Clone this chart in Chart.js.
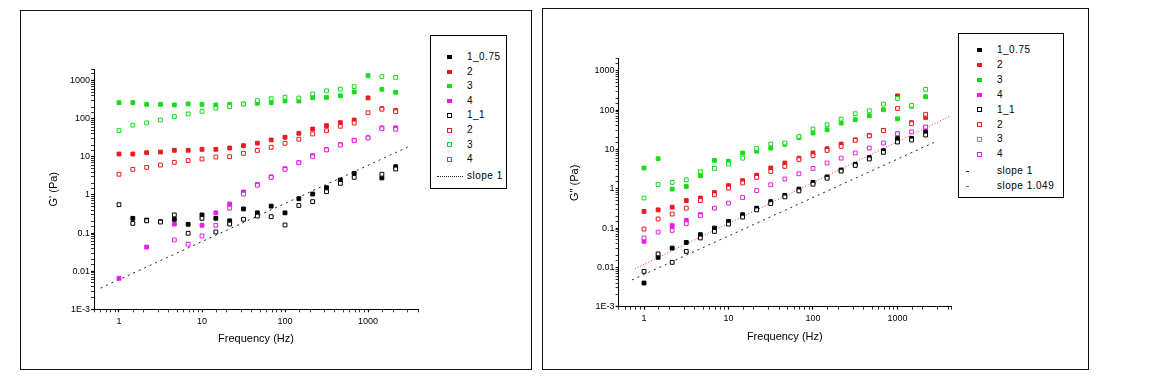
<!DOCTYPE html>
<html>
<head>
<meta charset="utf-8">
<script src="https://cdn.jsdelivr.net/npm/chart.js@4.4.0/dist/chart.umd.min.js"></script>
<style>
  body { margin: 0; background: #fff; width: 1155px; height: 377px; position: relative; overflow: hidden;
         font-family: 'Liberation Sans', Arial, sans-serif; }
  .frame { position: absolute; border: 1px solid #111; box-sizing: border-box; }
  .wrap { position: absolute; }
  .legend { position: absolute; border: 1px solid #000; box-sizing: border-box; background: #fff; }
  .row { position: absolute; height: 12px; line-height: 12px; font-size: 10px; letter-spacing: 0.5px; color: #000; white-space: nowrap; }
  .mk { position: absolute; box-sizing: border-box; }
</style>
</head>
<body>
<div class="frame" style="left:20px;top:10px;width:512px;height:360px"></div>
<div class="frame" style="left:542px;top:8px;width:547px;height:362px"></div>
<div class="wrap" style="left:20px;top:10px;width:512px;height:360px"><canvas id="gp"></canvas></div>
<div class="wrap" style="left:542px;top:8px;width:547px;height:362px"><canvas id="gpp"></canvas></div>
<div class="legend" id="legGp" style="left:430px;top:35px;width:77px;height:154px"></div>
<div class="legend" id="legGpp" style="left:958px;top:33px;width:106px;height:165px"></div>
<script>
// frequencies (Hz), 6 points per decade
const freq = [1, 1.468, 2.154, 3.162, 4.642, 6.813, 10, 14.68, 21.54, 31.62, 46.42, 68.13,
              100, 146.8, 215.4, 316.2, 464.2, 681.3, 1000, 1468, 2154];

// G' (Pa), series 1_0.75 (filled) and 1_1 (open)
const gp075_1 = [null, 0.244, 0.22, 0.2, 0.23, 0.17, 0.3, 0.244, 0.21, 0.43, 0.34, 0.51, 0.34, 0.8, 1.06, 1.55, 2.47, 3.7, null, 2.8, 5.5];
const gp075_2 = [11.9, 11.9, 12.9, 13.4, 14.9, 14.9, 15.8, 15.8, 17.1, 19.7, 23, 27.8, 32.7, 41.6, 54, 66, 79, 93, 352, 185, 165];
const gp075_3 = [265, 265, 240, 240, 230, 245, 240, 230, 240, 245, 255, 265, 293, 293, 360, 365, 400, 505, 1350, 594, 496];
const gp075_4 = [0.0065, null, 0.043, null, 0.173, null, 0.16, 0.34, 0.58, 1.2, 1.9, 3.0, 4.9, 7.1, 10.8, 15.5, 21, 27.5, 32, 58, 58];
const gp11_1 = [0.557, 0.18, 0.21, 0.195, 0.3, 0.099, 0.244, 0.107, 0.173, 0.23, 0.28, 0.27, 0.163, 0.53, 0.67, 1.22, 2.02, 2.9, null, 3.5, 4.8];
const gp11_2 = [3.5, 4.7, 5.3, 6.1, 7.2, 8.0, 8.8, 9.9, 10.1, 12.4, 14.8, 17.9, 22.7, 29, 40, 48.7, 63.5, 77.6, 144, 178, 153];
const gp11_3 = [49, 68, 78, 93, 114, 134, 157, 189, 208, 244, 300, 337, 367, 350, 450, 540, 600, 696, null, 1273, 1220];
const gp11_4 = [null, null, null, null, 0.066, 0.051, 0.084, 0.16, 0.45, 1.05, 1.8, 2.9, 4.7, 7.0, 10.1, 15.2, 20.5, 26.7, 31.3, 55, 53];

// G'' (Pa)
const gpp075_1 = [0.004, 0.018, 0.031, 0.043, 0.068, 0.1, 0.148, 0.218, 0.32, 0.47, 0.68, 0.98, 1.45, 2.0, 3.0, 4.2, 6.2, 9.3, 18.9, 19, 27.6];
const gpp075_2 = [0.265, 0.29, 0.34, 0.5, 0.58, 0.8, 1.2, 1.6, 2.2, 3.36, 4.5, 6.0, 8.1, 10.4, 13.7, 17.5, 22.5, 30.5, 230, 48, 65];
const gpp075_3 = [3.36, 5.8, 0.98, 1.14, 2.14, 5.25, 5.0, 8.1, 9.0, 10.8, 13.5, 20, 26, 31.6, 46.8, 56.8, 71.8, 102, 60, 125, 218];
const gpp075_4 = [0.046, null, 0.115, 0.156, 0.22, null, null, null, null, null, null, null, null, null, null, null, null, null, 25, null, 36];
const gpp11_1 = [0.0079, 0.022, 0.0134, 0.0255, 0.056, 0.082, 0.126, 0.19, 0.29, 0.42, 0.62, 0.88, 1.3, 1.85, 2.8, 3.9, 5.7, 8.4, 15.4, 17.3, 23.2];
const gpp11_2 = [0.094, 0.17, 0.227, 0.32, 0.5, 0.7, 1.04, 1.4, 1.94, 2.75, 3.7, 5.46, 6.9, 9.4, 11.9, 17, 22, 30, 110, 45, 78];
const gpp11_3 = [0.58, 1.28, 1.45, 1.69, 2.7, 3.28, 4.25, 6.0, 10.5, 13.7, 14.5, 21.4, 33, 42.4, 59, 80.7, 96, 142, 198, 131, 335];
const gpp11_4 = [0.056, 0.079, 0.087, 0.129, 0.206, 0.32, 0.43, 0.6, 0.9, 1.26, 1.77, 2.4, 3.28, 4.5, 6.0, 8.1, 10.8, 14.5, 25, 28, 37];

// reference slope lines (end points)
const gpSlope1X = [0.6, 3000];
const gpSlope1Y = [0.0036, 18];
const gppSlope1X = [0.72, 2700];
const gppSlope1Y = [0.0048, 15];
const gppSlope1049X = [0.78, 4300];
const gppSlope1049Y = [0.0092, 72];

// tick labels
const xTickValues = [1, 10, 100, 1000];
const xTickLabels = ['1', '10', '100', '1000'];
const yTickValues = [0.001, 0.01, 0.1, 1, 10, 100, 1000];
const yTickLabels = ['1E-3', '0.01', '0.1', '1', '10', '100', '1000'];

const seriesLabels = ['1_0.75', '2', '3', '4', '1_1', '2', '3', '4'];
const seriesColors = ['#000000', '#e81c1c', '#18dc18', '#e81ce8'];

const FONT = "'Liberation Sans', Arial, sans-serif";

function pts(xs, ys) {
    return xs.map((x, i) => ({ x: x, y: ys[i] })).filter(p => p.y != null);
}

function markerSet(label, ys, color, open) {
    return {
        label: label,
        data: pts(freq, ys),
        showLine: false,
        pointStyle: 'rect',
        pointRadius: 2.7,
        pointHoverRadius: 2.7,
        pointBackgroundColor: open ? '#ffffff' : color,
        pointBorderColor: color,
        pointBorderWidth: 1,
        order: open ? 0 : 1,
        legendKind: open ? 'open' : 'filled',
        legendColor: color
    };
}

function slopeSet(label, xs, ys, color, dash) {
    return {
        label: label,
        data: pts(xs, ys),
        showLine: true,
        pointRadius: 0,
        borderColor: color,
        borderWidth: 1,
        borderDash: dash,
        fill: false,
        order: 2,
        legendKind: 'line',
        legendColor: color
    };
}

function tickText(v, values, labels) {
    for (let i = 0; i < values.length; i++) {
        if (Math.abs(v / values[i] - 1) < 1e-6) return labels[i];
    }
    return '';
}

function isDecade(v) {
    const l = Math.log10(v);
    return Math.abs(l - Math.round(l)) < 1e-6;
}

function logAxis(c) {
    return {
        type: 'logarithmic',
        position: c.position,
        min: c.min,
        max: c.max,
        grid: {
            drawOnChartArea: false,
            drawTicks: true,
            tickLength: 3,
            color: '#000',
            tickWidth: ctx => (ctx.tick && isDecade(ctx.tick.value)) ? 1.2 : 0.8
        },
        border: { display: true, color: '#000', width: 1 },
        ticks: {
            autoSkip: false,
            maxRotation: 0,
            minRotation: 0,
            padding: c.tickPad,
            color: '#000',
            font: { family: FONT, size: 9 },
            callback: v => tickText(v, c.values, c.labels)
        },
        title: {
            display: true,
            text: c.title,
            color: '#000',
            font: { family: FONT, size: 11 },
            padding: c.titlePad
        },
        afterFit: s => {
            if (c.position === 'left') s.width = c.size; else s.height = c.size;
        }
    };
}

function makeChart(id, datasets, p) {
    return new Chart(document.getElementById(id), {
        type: 'scatter',
        data: { datasets: datasets },
        options: {
            responsive: true,
            maintainAspectRatio: false,
            animation: false,
            events: [],
            layout: { padding: { left: 0, top: p.top, right: p.right, bottom: 0 } },
            plugins: { legend: { display: false }, tooltip: { enabled: false } },
            scales: {
                x: logAxis({ position: 'bottom', min: 0.5, max: p.xMax, values: xTickValues, labels: xTickLabels,
                             tickPad: p.xTickPad, title: 'Frequency (Hz)', titlePad: { top: 0, bottom: p.xTitlePad }, size: p.xSize }),
                y: logAxis({ position: 'left', min: 0.001, max: 2000, values: yTickValues, labels: yTickLabels,
                             tickPad: 1, title: p.yTitle, titlePad: { top: p.yTitlePad, bottom: 0 }, size: p.ySize })
            }
        }
    });
}

function buildLegend(id, datasets, L) {
    const box = document.getElementById(id);
    datasets.forEach((d, i) => {
        const cy = L.firstRow + i * L.step + (d.legendKind === 'line' ? L.lineExtra : 0);
        const mk = document.createElement('div');
        mk.className = 'mk';
        if (d.legendKind === 'filled') {
            mk.style.cssText = `left:${L.markX - 2.5}px;top:${cy - 2}px;width:5px;height:4px;background:${d.legendColor}`;
        } else if (d.legendKind === 'open') {
            mk.style.cssText = `left:${L.markX - 2.5}px;top:${cy - 2.5}px;width:5px;height:5px;border:1px solid ${d.legendColor};background:#fff`;
        } else {
            mk.style.cssText = `left:${L.lineX0}px;top:${cy}px;width:${L.lineX1 - L.lineX0}px;height:0;border-top:1px dotted ${d.legendColor}`;
        }
        box.appendChild(mk);
        const row = document.createElement('div');
        row.className = 'row';
        row.style.left = L.textX + 'px';
        row.style.top = (cy - 6) + 'px';
        row.textContent = d.label;
        box.appendChild(row);
    });
}

const gpSets = [
    markerSet(seriesLabels[0], gp075_1, seriesColors[0], false),
    markerSet(seriesLabels[1], gp075_2, seriesColors[1], false),
    markerSet(seriesLabels[2], gp075_3, seriesColors[2], false),
    markerSet(seriesLabels[3], gp075_4, seriesColors[3], false),
    markerSet(seriesLabels[4], gp11_1, seriesColors[0], true),
    markerSet(seriesLabels[5], gp11_2, seriesColors[1], true),
    markerSet(seriesLabels[6], gp11_3, seriesColors[2], true),
    markerSet(seriesLabels[7], gp11_4, seriesColors[3], true),
    slopeSet('slope 1', gpSlope1X, gpSlope1Y, '#222', [2, 4])
];

const gppSets = [
    markerSet(seriesLabels[0], gpp075_1, seriesColors[0], false),
    markerSet(seriesLabels[1], gpp075_2, seriesColors[1], false),
    markerSet(seriesLabels[2], gpp075_3, seriesColors[2], false),
    markerSet(seriesLabels[3], gpp075_4, seriesColors[3], false),
    markerSet(seriesLabels[4], gpp11_1, seriesColors[0], true),
    markerSet(seriesLabels[5], gpp11_2, seriesColors[1], true),
    markerSet(seriesLabels[6], gpp11_3, seriesColors[2], true),
    markerSet(seriesLabels[7], gpp11_4, seriesColors[3], true),
    slopeSet('slope 1', gppSlope1X, gppSlope1Y, '#222', [2, 4]),
    slopeSet('slope 1.049', gppSlope1049X, gppSlope1049Y, '#e33', [1, 2])
];

makeChart('gp', gpSets, { top: 59.2, right: 114, xMax: 4000, xSize: 60.7, ySize: 74,
                          xTickPad: 4, xTitlePad: 24, yTitlePad: 27, yTitle: "G' (Pa)" });
makeChart('gpp', gppSets, { top: 50.9, right: 138, xMax: 4300, xSize: 63.3, ySize: 76.6,
                            xTickPad: 3, xTitlePad: 26, yTitlePad: 26, yTitle: 'G" (Pa)' });

buildLegend('legGp', gpSets, { firstRow: 21, step: 14.6, lineExtra: 2, markX: 18, textX: 36, lineX0: 6, lineX1: 32 });
buildLegend('legGpp', gppSets, { firstRow: 16, step: 14.9, lineExtra: 1.5, markX: 20, textX: 38, lineX0: 7, lineX1: 9 });
</script>
</body>
</html>
